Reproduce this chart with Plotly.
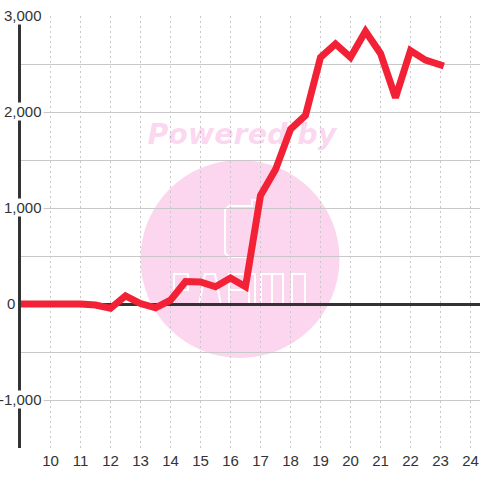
import plotly.graph_objects as go

hours = [9, 9.5, 10, 10.5, 11, 11.5, 12, 12.5, 13, 13.5, 14, 14.5, 15, 15.5, 16, 16.5, 17, 17.5, 18, 18.5, 19, 19.5, 20, 20.5, 21, 21.5, 22, 22.5, 23]
values = [0, 0, 0, 0, 0, -10, -45, 85, 5, -40, 40, 235, 230, 180, 270, 180, 1130, 1400, 1820, 1965, 2570, 2710, 2570, 2840, 2610, 2150, 2640, 2540, 2490]
y_ticks = [3000, 2000, 1000, 0, -1000]
y_tick_labels = ["3,000", "2,000", "1,000", "0", "-1,000"]
x_ticks = list(range(10, 25))
RED = "#f32136"
PINK = "#fbd6ee"
INK = "#333333"
GRID = "#c8c8c8"
FONT = "Liberation Sans"

L, R, T, B = 21, 480, 16, 448
def px(x): return (x - L) / (R - L)
def py(y): return (B - y) / (B - T)
def path(*pts, close=True):
    s = "M " + " L ".join(f"{px(x):.5f},{py(y):.5f}" for x, y in pts)
    return s + (" Z" if close else "")

fig = go.Figure()
fig.add_trace(go.Scatter(x=[16.38], y=[1740], mode="text", text=["<b><i>Powered by</i></b>"],
    textfont=dict(family="DejaVu Sans", size=28.5, color="rgba(235,50,170,0.2)"), hoverinfo="skip", showlegend=False))
fig.add_trace(go.Scatter(x=hours, y=values, mode="lines", line=dict(color=RED, width=7, simplify=False),
    cliponaxis=False, showlegend=False))

shapes = [
    dict(type="circle", xref="paper", yref="paper", layer="below",
         x0=px(140.5), x1=px(339.5), y0=py(358), y1=py(160),
         fillcolor=PINK, line_width=0),
]
# white outlined logo of the watermark
logo = [
    path((258, 200), (252, 200), (252, 206), (229, 206), (225, 210), (225, 253), (229, 257), (250, 257), close=False),
    path((174, 303), (174, 274), (188, 274), (188, 290), (174, 290)),
    path((199, 305), (205, 274), (215, 274), (221, 305)),
    path((229, 305), (229, 274), (244, 274), (244, 290), (229, 290)),
    path((249, 274), (255, 274), (255, 305), (249, 305)),
    path((261, 305), (261, 274), (283, 274), (283, 305)),
    path((272, 274), (272, 305), close=False),
    path((292, 274), (305, 274), (305, 305), (292, 305)),
]
for d in logo:
    shapes.append(dict(type="path", xref="paper", yref="paper", layer="below", path=d,
                       line=dict(color="white", width=2)))

annotations = []
label_x = {"3,000": 43, "2,000": 43, "1,000": 43, "0": 16, "-1,000": 43}
for v, lab in zip(y_ticks, y_tick_labels):
    annotations.append(dict(x=px(label_x[lab] + 1), xref="paper", y=v, yref="y", yshift=1, text=lab, showarrow=False,
        font=dict(family=FONT, size=15, color=INK), bgcolor="white" if v else "rgba(0,0,0,0)",
        xanchor="right", yanchor="middle", borderpad=1, height=15 if v else None))

fig.update_layout(
    width=480, height=480, autosize=False,
    margin=dict(l=L, r=480 - R, t=T, b=480 - B), paper_bgcolor="white", plot_bgcolor="rgba(0,0,0,0)",
    font=dict(family=FONT, size=15, color=INK),
    shapes=shapes, annotations=annotations, showlegend=False,
    xaxis=dict(range=[9 + 0.5 / 30, 9 + 0.5 / 30 + (R - L) / 30], tickvals=x_ticks, ticktext=[str(t) for t in x_ticks], showgrid=True,
        gridcolor=GRID, griddash="2px,3px", gridwidth=1, zeroline=False, ticks="", showline=False,
        ticklabeloverflow="allow", automargin=False, ticklabelstandoff=2,
        tickfont=dict(family=FONT, size=15, color=INK)),
    yaxis=dict(range=[-1500, 3000], dtick=500, showgrid=True, gridcolor=GRID, gridwidth=1,
        showticklabels=False, ticks="", zeroline=True, zerolinecolor=INK, zerolinewidth=3,
        showline=True, linecolor=INK, linewidth=3, layer="below traces"),
)
post = """
document.body.style.margin = '0';
var st = document.createElement('style');
st.textContent = '.js-line{stroke-linecap:square;}';
document.head.appendChild(st);
"""
fig.write_html("out.html", post_script=post, config={"displayModeBar": False})
